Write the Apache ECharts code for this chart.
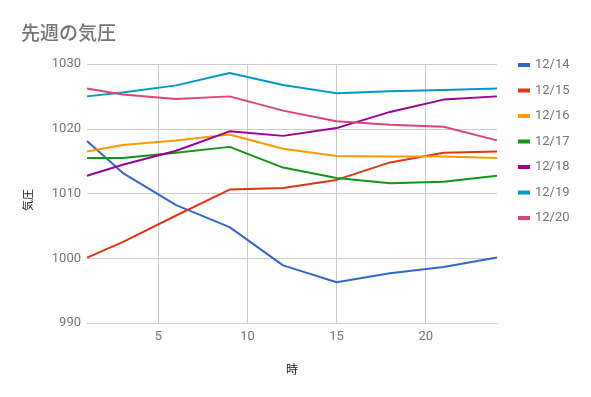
<!DOCTYPE html>
<html>
<head>
<meta charset="utf-8">
<script src="https://cdn.jsdelivr.net/npm/echarts@6/dist/echarts.min.js"></script>
<style>
  html, body { margin: 0; padding: 0; background: #fff; }
  #chart { width: 591px; height: 397px; }
</style>
</head>
<body>
<div id="chart"></div>
<script>
// 時 (hour of day)
const hours = [1, 3, 6, 9, 12, 15, 18, 21, 24]
const days = ['12/14', '12/15', '12/16', '12/17', '12/18', '12/19', '12/20']
const colors = ['#3366cc', '#dc3912', '#ff9900', '#109618', '#990099', '#0099c6', '#dd4477']

// 気圧 (hPa) per day
const d1214 = [1018.1, 1013.2, 1008.2, 1004.8, 998.9, 996.3, 997.7, 998.65, 1000.1]
const d1215 = [1000.1, 1002.5, 1006.6, 1010.6, 1010.85, 1012.1, 1014.8, 1016.3, 1016.5]
const d1216 = [1016.5, 1017.5, 1018.2, 1019.1, 1016.9, 1015.8, 1015.7, 1015.7, 1015.5]
const d1217 = [1015.5, 1015.5, 1016.3, 1017.2, 1014.0, 1012.4, 1011.6, 1011.8, 1012.75]
const d1218 = [1012.75, 1014.45, 1016.6, 1019.6, 1018.9, 1020.1, 1022.6, 1024.5, 1025.0]
const d1219 = [1025.0, 1025.6, 1026.7, 1028.6, 1026.75, 1025.5, 1025.8, 1026.0, 1026.2]
const d1220 = [1026.2, 1025.3, 1024.6, 1025.0, 1022.8, 1021.15, 1020.6, 1020.3, 1018.2]
const values = [d1214, d1215, d1216, d1217, d1218, d1219, d1220]

const xTicks = [5, 10, 15, 20]

const chart = echarts.init(document.getElementById('chart'))
chart.setOption({
  animation: false,
  color: colors,
  textStyle: { fontFamily: 'Roboto, "Noto Sans CJK JP", sans-serif' },
  title: {
    text: '先週の気圧',
    left: 16,
    top: 18,
    textStyle: {
      color: '#757575',
      fontSize: 19,
      fontWeight: 500,
      fontFamily: '"Noto Sans CJK JP", sans-serif'
    }
  },
  legend: {
    orient: 'vertical',
    left: 518,
    top: 58,
    padding: 0,
    icon: 'rect',
    itemWidth: 12,
    itemHeight: 4,
    itemGap: 11.5,
    textStyle: { color: '#757575', fontSize: 13, lineHeight: 14 },
    data: days
  },
  // y axis title, placed a little below the plot centre like the original
  graphic: [{
    type: 'text',
    x: 28,
    y: 200,
    rotation: Math.PI / 2,
    style: {
      text: '気圧',
      fill: '#222',
      fontSize: 11,
      fontFamily: '"Noto Sans CJK JP", sans-serif',
      align: 'center',
      verticalAlign: 'middle'
    }
  }],
  grid: { left: 87, right: 94, top: 64, bottom: 74 },
  xAxis: {
    type: 'value',
    min: 1,
    max: 24,
    name: '時',
    nameLocation: 'middle',
    nameGap: 40,
    nameTextStyle: { color: '#222', fontSize: 12, fontFamily: '"Noto Sans CJK JP", sans-serif' },
    axisLine: { show: true, lineStyle: { color: '#cccccc' } },
    axisTick: { show: false, customValues: xTicks },
    axisLabel: { customValues: xTicks, color: '#757575', fontSize: 13, margin: 7 },
    splitLine: { show: true, lineStyle: { color: '#cccccc' } }
  },
  yAxis: {
    type: 'value',
    min: 990,
    max: 1030,
    interval: 10,
    axisLine: { show: false },
    axisTick: { show: false },
    axisLabel: { color: '#757575', fontSize: 13, margin: 6, formatter: v => String(v) },
    splitLine: { show: true, lineStyle: { color: '#cccccc' } }
  },
  series: days.map((d, i) => ({
    name: d,
    type: 'line',
    showSymbol: false,
    lineStyle: { width: 2 },
    data: hours.map((h, j) => [h, values[i][j]])
  }))
})
</script>
</body>
</html>
